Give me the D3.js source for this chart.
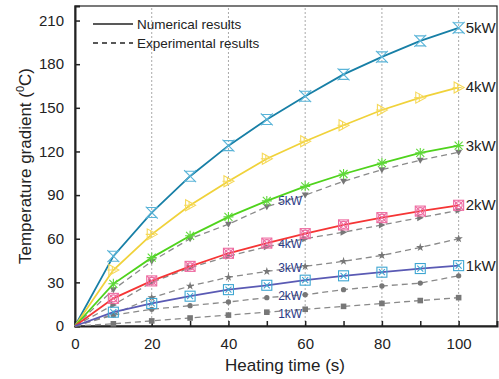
<!DOCTYPE html>
<html>
<head>
<meta charset="utf-8">
<script src="https://cdn.jsdelivr.net/npm/d3@7"></script>
<style>
  body { margin: 0; background: #fff; }
  svg { font-family: Arial, "Liberation Sans", sans-serif; }
</style>
</head>
<body>
<figure id="chart" style="margin:0"></figure>
<script>
// Heating time (s)
const times = [0, 10, 20, 30, 40, 50, 60, 70, 80, 90, 100];

// Numerical results
const num5kW = [0, 48, 78, 103, 124, 142, 158, 173, 185, 196, 205];
const num4kW = [0, 38.5, 63, 83, 99.5, 115, 127, 138, 148.5, 157, 164];
const num3kW = [0, 29, 47, 62, 75, 86, 96, 104.5, 112, 119, 124];
const num2kW = [0, 19, 31, 41, 50, 57, 63.5, 69.5, 74.5, 79, 83];
const num1kW = [0, 9.5, 15.5, 20.5, 25, 28, 31.5, 34.5, 37, 39.5, 41.5];

// Experimental results
const exp5kW = [0, 25, 44.5, 60, 70, 82, 90, 99.5, 107.5, 114, 119.5];
const exp4kW = [0, 14.5, 30, 40, 48, 54.5, 60, 64.5, 69.5, 74.5, 79.5];
const exp3kW = [0, 8, 19.5, 27.5, 33.5, 37.5, 41, 44.5, 48.5, 54, 60];
const exp2kW = [0, 7.5, 11.5, 14, 16.5, 19.5, 21.5, 25, 27.5, 29.5, 34.5];
const exp1kW = [0, 1.5, 3.5, 5.5, 7.5, 9.5, 11.5, 13.5, 15.5, 17.5, 19.5];

const powerLabels = ["5kW", "4kW", "3kW", "2kW", "1kW"];
const xTicks = [0, 20, 40, 60, 80, 100];
const yTicks = [0, 30, 60, 90, 120, 150, 180, 210];

const width = 499, height = 379;
const margin = { top: 6, right: 2, bottom: 53, left: 75 };

const svg = d3.select("#chart").append("svg")
  .attr("width", width)
  .attr("height", height);

const x = d3.scaleLinear().domain([0, 110]).range([margin.left, width - margin.right]);
const y = d3.scaleLinear().domain([0, 220]).range([height - margin.bottom, margin.top]);

// vertical dotted grid
svg.append("g")
  .selectAll("line")
  .data(xTicks.slice(1))
  .join("line")
  .attr("x1", d => x(d)).attr("x2", d => x(d))
  .attr("y1", y(0)).attr("y2", y(220))
  .attr("stroke", "#aaa")
  .attr("stroke-width", 1)
  .attr("stroke-dasharray", "2,2");

// frame
svg.append("rect")
  .attr("x", x(0)).attr("y", y(220))
  .attr("width", x(110) - x(0)).attr("height", y(0) - y(220))
  .attr("fill", "none").attr("stroke", "#222").attr("stroke-width", 1.2);

// axes
const xAxis = svg.append("g")
  .attr("transform", `translate(0,${y(0)})`)
  .call(d3.axisBottom(x).tickValues(d3.range(0, 101, 10)).tickSize(-5).tickPadding(12)
    .tickFormat(d => xTicks.includes(d) ? d : ""));
const yAxis = svg.append("g")
  .attr("transform", `translate(${x(0)},0)`)
  .call(d3.axisLeft(y).tickValues(d3.range(0, 211, 15)).tickSize(-5).tickPadding(11)
    .tickFormat(d => yTicks.includes(d) ? d : ""));
[xAxis, yAxis].forEach(g => {
  g.select(".domain").attr("stroke", "#222").attr("stroke-width", 2);
  g.selectAll(".tick line").attr("stroke", "#222").attr("stroke-width", 1.5);
  g.selectAll(".tick text").attr("font-size", 15).attr("fill", "#222")
    .attr("font-family", "Arial, 'Liberation Sans', sans-serif");
});
yAxis.selectAll(".tick line").filter(d => !yTicks.includes(d)).remove();
xAxis.selectAll(".tick line").filter(d => d === 0).remove();

// axis titles
svg.append("text")
  .attr("x", 285).attr("y", 371)
  .attr("text-anchor", "middle")
  .attr("font-size", 17).attr("fill", "#222")
  .text("Heating time (s)");

const yt = svg.append("text")
  .attr("transform", `translate(31,${(y(0) + y(220)) / 2}) rotate(-90)`)
  .attr("text-anchor", "middle")
  .attr("font-size", 17).attr("fill", "#222");
yt.append("tspan").text("Temperature gradient (");
yt.append("tspan").attr("font-size", 11).attr("dy", -7).text("0");
yt.append("tspan").attr("dy", 7).text("C)");

const line = d3.line()
  .x((d, i) => x(times[i]))
  .y(d => y(d));

// experimental dashed series
const expSeries = [
  { values: exp5kW, marker: "down" },
  { values: exp4kW, marker: "right" },
  { values: exp3kW, marker: "star" },
  { values: exp2kW, marker: "circle" },
  { values: exp1kW, marker: "square" }
];

const expG = svg.append("g");
expSeries.forEach(s => {
  expG.append("path")
    .attr("d", line(s.values))
    .attr("fill", "none")
    .attr("stroke", "#8a8a8a")
    .attr("stroke-width", 1.3)
    .attr("stroke-dasharray", "6,4");
  const pts = expG.append("g").selectAll("path")
    .data(s.values.slice(1))
    .join("path")
    .attr("transform", (d, i) => `translate(${x(times[i + 1])},${y(d)})`)
    .attr("fill", "#777")
    .attr("stroke", "none");
  if (s.marker === "down") pts.attr("d", "M-3.5,-2.5L3.5,-2.5L0,3.5Z");
  if (s.marker === "right") pts.attr("d", "M-3,-3.5L3.5,0L-3,3.5Z");
  if (s.marker === "star") pts.attr("d", d3.symbol(d3.symbolStar, 22)());
  if (s.marker === "circle") pts.attr("d", d3.symbol(d3.symbolCircle, 22)());
  if (s.marker === "square") pts.attr("d", "M-2.8,-2.8h5.6v5.6h-5.6Z");
});

// labels on experimental lines
const innerY = [86, 56.5, 40, 21, 8.5];
svg.append("g")
  .selectAll("text")
  .data(powerLabels)
  .join("text")
  .attr("x", x(60) - 3)
  .attr("y", (d, i) => y(innerY[i]))
  .attr("dy", "0.35em")
  .attr("text-anchor", "end")
  .attr("font-size", 12)
  .attr("fill", "#2b3a86")
  .text(d => d);

// numerical solid series
const numSeries = [
  { values: num5kW, color: "#177fa6", mcolor: "#5ab4d8", marker: "xbox" },
  { values: num4kW, color: "#f0d23a", mcolor: "#f6d95a", marker: "tri" },
  { values: num3kW, color: "#4fd31c", mcolor: "#5fd83a", marker: "aster" },
  { values: num2kW, color: "#f53535", mcolor: "#ee6aa0", marker: "circbox" },
  { values: num1kW, color: "#5a5ab4", mcolor: "#3ea6d2", marker: "sqx" }
];

const numG = svg.append("g");
numSeries.forEach(s => {
  numG.append("path")
    .attr("d", line(s.values))
    .attr("fill", "none")
    .attr("stroke", s.color)
    .attr("stroke-width", 1.8);
  const m = numG.append("g").selectAll("g")
    .data(s.values.slice(1))
    .join("g")
    .attr("transform", (d, i) => `translate(${x(times[i + 1])},${y(d)})`)
    .attr("fill", "none")
    .attr("stroke", s.mcolor)
    .attr("stroke-width", 1.1);
  if (s.marker === "xbox") {
    m.append("path").attr("d", "M-6,-6L6,6M6,-6L-6,6M-5,-5L5,-5L0,0ZM-5,5L5,5L0,0Z");
  }
  if (s.marker === "tri") {
    m.append("path").attr("d", "M-4.5,-5.5L5.5,0L-4.5,5.5Z");
    m.append("path").attr("d", "M-6,0H3M-1,-4V4");
  }
  if (s.marker === "aster") {
    m.append("path").attr("d", "M-5,0H5M0,-5V5M-4,-4L4,4M4,-4L-4,4");
  }
  if (s.marker === "circbox") {
    m.append("rect").attr("x", -5).attr("y", -5).attr("width", 10).attr("height", 10);
    m.append("circle").attr("r", 3.5);
    m.append("path").attr("d", "M-5,-5L5,5M5,-5L-5,5");
  }
  if (s.marker === "sqx") {
    m.append("rect").attr("x", -5).attr("y", -5).attr("width", 10).attr("height", 10);
    m.append("path").attr("d", "M-3,-3L3,3M3,-3L-3,3");
  }
});

// right-side labels
const rightY = [num5kW, num4kW, num3kW, num2kW, num1kW].map(v => v[v.length - 1]);
svg.append("g")
  .selectAll("text")
  .data(powerLabels)
  .join("text")
  .attr("x", x(100) + 7)
  .attr("y", (d, i) => y(rightY[i]) + 5)
  .attr("font-size", 15)
  .attr("fill", "#222")
  .text(d => d);

// legend
const legend = svg.append("g");
const legendItems = [
  { label: "Numerical results", dash: null, yy: 24 },
  { label: "Experimental results", dash: "5,4", yy: 43 }
];
legendItems.forEach(it => {
  legend.append("line")
    .attr("x1", 93).attr("x2", 133)
    .attr("y1", it.yy).attr("y2", it.yy)
    .attr("stroke", "#222").attr("stroke-width", 1.3)
    .attr("stroke-dasharray", it.dash);
  legend.append("text")
    .attr("x", 137).attr("y", it.yy + 5)
    .attr("font-size", 13.5).attr("fill", "#222")
    .text(it.label);
});
</script>
</body>
</html>
